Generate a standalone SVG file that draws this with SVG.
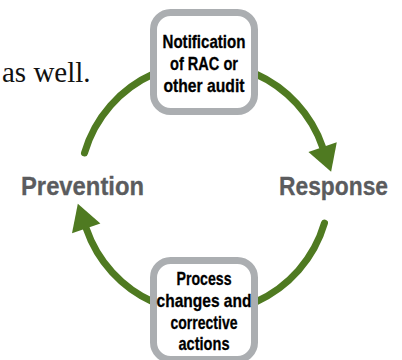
<svg xmlns="http://www.w3.org/2000/svg" width="402" height="360" viewBox="0 0 402 360">
<defs>
<style>
.arc{fill:none;stroke:#4f7a21;stroke-width:7;stroke-linecap:round}
.box{fill:#fff;stroke:#abaeb1;stroke-width:7}
.bt{font-family:"Liberation Sans Narrow","Liberation Sans",Arial,sans-serif;font-weight:bold;font-size:19px;fill:#000;stroke:#000;stroke-width:0.3;text-anchor:middle}
.lbl{font-family:"Liberation Sans Narrow","Liberation Sans",Arial,sans-serif;font-weight:bold;font-size:26px;fill:#5b5c5e;stroke:#5b5c5e;stroke-width:0.3}
.prose{font-family:"Liberation Serif","Times New Roman",serif;font-size:29px;fill:#111}
</style>
<marker id="ah" markerUnits="userSpaceOnUse" markerWidth="30" markerHeight="32" refX="0" refY="15" orient="auto" viewBox="0 0 30 32" overflow="visible">
<path d="M0,0 L26,15 L0,30 z" fill="#4f7a21"/>
</marker>
</defs>
<text class="prose" x="2" y="82">as well.</text>
<g id="connectors">
<path class="arc" d="M255.3,73.8 A125,125 0 0,1 322.6,147.1" marker-end="url(#ah)"/>
<path class="arc" d="M324.5,223.1 A125,125 0 0,1 255.3,302.2"/>
<path class="arc" d="M153.7,302.2 A125,125 0 0,1 86.2,228.3" marker-end="url(#ah)"/>
<path class="arc" d="M84.5,152.9 A125,125 0 0,1 153.7,73.8"/>
</g>
<g id="notification">
<rect class="box" x="153.5" y="12.5" width="101" height="99" rx="17"/>
<text class="bt" x="204" y="48" textLength="83" lengthAdjust="spacingAndGlyphs">Notification</text>
<text class="bt" x="204" y="70" textLength="68" lengthAdjust="spacingAndGlyphs">of RAC or</text>
<text class="bt" x="204" y="91.5" textLength="81" lengthAdjust="spacingAndGlyphs">other audit</text>
</g>
<g id="process">
<rect class="box" x="153.5" y="260.5" width="101" height="99" rx="17"/>
<text class="bt" x="204" y="285" textLength="55" lengthAdjust="spacingAndGlyphs">Process</text>
<text class="bt" x="204" y="307" textLength="95" lengthAdjust="spacingAndGlyphs">changes and</text>
<text class="bt" x="204" y="329" textLength="67" lengthAdjust="spacingAndGlyphs">corrective</text>
<text class="bt" x="204" y="350" textLength="51" lengthAdjust="spacingAndGlyphs">actions</text>
</g>
<g id="prevention">
<text class="lbl" x="21" y="195" textLength="123" lengthAdjust="spacingAndGlyphs">Prevention</text>
</g>
<g id="response">
<text class="lbl" x="279" y="195" textLength="109" lengthAdjust="spacingAndGlyphs">Response</text>
</g>
</svg>
